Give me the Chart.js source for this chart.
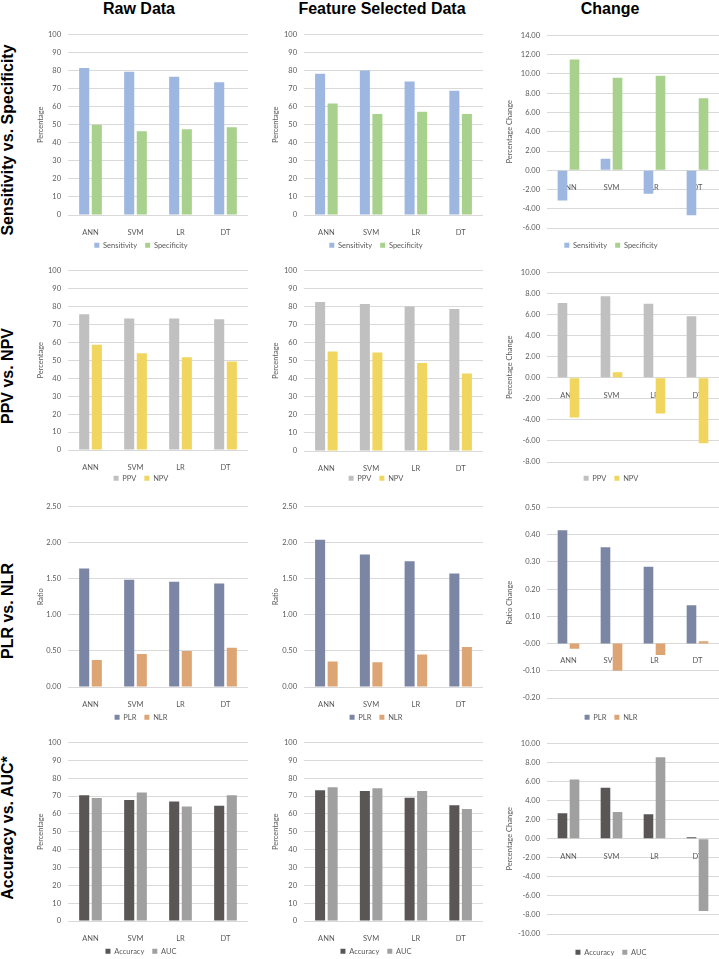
<!DOCTYPE html>
<html>
<head>
<meta charset="utf-8">
<script src="https://cdn.jsdelivr.net/npm/chart.js@4"></script>
<style>
html, body { margin: 0; padding: 0; background: #fff; overflow: hidden; }
#page { position: relative; width: 719px; height: 959px; }
canvas { position: absolute; }
.coltitle, .rowtitle {
    position: absolute;
    font-family: "Liberation Sans", Arial, sans-serif;
    font-weight: bold;
    font-size: 16px;
    line-height: 16px;
    white-space: nowrap;
    color: #000;
}
.coltitle { transform: translate(-50%, -50%); }
.rowtitle { transform: translate(-50%, -50%) rotate(-90deg); }
</style>
</head>
<body>
<div id="page">
    <div class="coltitle" style="left:139px; top:9px">Raw Data</div>
    <div class="coltitle" style="left:382px; top:9px">Feature Selected Data</div>
    <div class="coltitle" style="left:610px; top:9px">Change</div>
    <div class="rowtitle" style="left:8px; top:140px">Sensitivity vs. Specificity</div>
    <div class="rowtitle" style="left:8px; top:376px">PPV vs. NPV</div>
    <div class="rowtitle" style="left:8px; top:611px">PLR vs. NLR</div>
    <div class="rowtitle" style="left:8px; top:828px">Accuracy vs. AUC*</div>
</div>
<script>
// categories
const models = ["ANN", "SVM", "LR", "DT"];

// Sensitivity vs. Specificity
const sensRaw = [81.5, 79.3, 76.6, 73.5];
const specRaw = [50.0, 46.4, 47.5, 48.6];
const sensFs = [78.2, 80.0, 73.9, 68.8];
const specFs = [61.8, 56.0, 57.2, 56.0];
const sensChange = [-3.13, 1.2, -2.44, -4.68];
const specChange = [11.5, 9.6, 9.81, 7.47];

// PPV vs. NPV
const ppvRaw = [75.6, 73.2, 73.2, 72.9];
const npvRaw = [58.7, 53.9, 51.7, 49.3];
const ppvFs = [82.5, 81.4, 80.0, 78.7];
const npvFs = [55.1, 54.6, 48.7, 43.0];
const ppvChange = [7.1, 7.75, 7.04, 5.85];
const npvChange = [-3.77, 0.53, -3.4, -6.23];

// PLR vs. NLR
const plrRaw = [1.64, 1.485, 1.458, 1.435];
const nlrRaw = [0.375, 0.457, 0.498, 0.544];
const plrFs = [2.04, 1.835, 1.743, 1.573];
const nlrFs = [0.353, 0.344, 0.45, 0.555];
const plrChange = [0.416, 0.354, 0.282, 0.141];
const nlrChange = [-0.019, -0.1, -0.042, 0.0085];

// Accuracy vs. AUC
const accRaw = [70.4, 67.8, 66.9, 64.6];
const aucRaw = [68.9, 72.0, 64.1, 70.4];
const accFs = [73.2, 72.8, 69.1, 64.9];
const aucFs = [74.9, 74.3, 72.8, 62.8];
const accChange = [2.68, 5.36, 2.57, 0.17];
const aucChange = [6.23, 2.82, 8.56, -7.58];

// y axis ranges per panel type
const pctAxis = { min: 0, max: 100, step: 10, decimals: 0, title: "Percentage" };
const ratioAxis = { min: 0, max: 2.5, step: 0.5, decimals: 2, title: "Ratio" };
const axisChange1 = { min: -6, max: 14, step: 2, decimals: 2, title: "Percentage Change" };
const axisChange2 = { min: -8, max: 10, step: 2, decimals: 2, title: "Percentage Change" };
const axisChange3 = { min: -0.2, max: 0.5, step: 0.1, decimals: 2, title: "Ratio Change" };
const axisChange4 = { min: -10, max: 10, step: 2, decimals: 2, title: "Percentage Change" };

// layout of the grid (pixels)
const columns = [
    { left: 34, right: 248, yWidth: 34 },
    { left: 269, right: 483, yWidth: 35 },
    { left: 503, right: 719, yWidth: 44 }
];
const rowsGeom = [
    { top: [33, 33, 34], bottom: [215, 215, 228], legend: [245, 245, 245] },
    { top: [269, 269, 271], bottom: [450, 451, 462], legend: [478, 478, 478] },
    { top: [505, 505, 506], bottom: [687, 687, 698], legend: [717, 717, 717] },
    { top: [741, 741, 742], bottom: [921, 921, 934], legend: [951, 951, 952] }
];

const tickFont = { family: "Lato", size: 7.5 };
const textColor = "#595959";
const legendPad = 8;
const page = document.getElementById("page");

function drawPanel(col, row, seriesA, seriesB, names, colors, axis) {
    const c = columns[col];
    const r = rowsGeom[row];
    const gridTop = r.top[col], gridBottom = r.bottom[col], legendY = r.legend[col];
    const canvasTop = gridTop - 10;
    const canvasBottom = legendY + 14;
    // empty legend title used as a spacer between the plot and the legend row
    const spacer = (canvasBottom - gridBottom) - (tickFont.size + legendPad + 10) - 1.2;

    const canvas = document.createElement("canvas");
    canvas.width = c.right - c.left;
    canvas.height = canvasBottom - canvasTop;
    canvas.style.left = c.left + "px";
    canvas.style.top = canvasTop + "px";
    page.appendChild(canvas);

    new Chart(canvas, {
        type: "bar",
        data: {
            labels: models,
            datasets: [
                { label: names[0], data: seriesA, backgroundColor: colors[0] },
                { label: names[1], data: seriesB, backgroundColor: colors[1] }
            ]
        },
        options: {
            responsive: false,
            animation: false,
            devicePixelRatio: 1,
            layout: { padding: { top: 10, left: 0, right: 0, bottom: 0 } },
            datasets: { bar: { categoryPercentage: 0.56, barPercentage: 0.8 } },
            plugins: {
                legend: {
                    position: "bottom",
                    title: { display: true, text: "", font: { size: 1 }, padding: { top: spacer, bottom: 0 } },
                    labels: { boxWidth: 5, boxHeight: 5, padding: legendPad, color: textColor, font: tickFont }
                },
                tooltip: { enabled: false }
            },
            scales: {
                x: {
                    // category labels sit just under the zero line, as in Excel
                    position: { y: 0 },
                    z: 1,
                    grid: { display: false },
                    border: { display: false },
                    ticks: { color: textColor, font: tickFont, padding: 5, maxRotation: 0, autoSkip: false }
                },
                y: {
                    min: axis.min,
                    max: axis.max,
                    ticks: {
                        stepSize: axis.step,
                        color: textColor,
                        font: tickFont,
                        padding: 7,
                        callback: v => axis.decimals ? Number(v).toFixed(axis.decimals) : v
                    },
                    grid: { color: "#d9d9d9", drawTicks: false },
                    border: { display: false },
                    title: { display: true, text: axis.title, color: textColor, font: tickFont, padding: { top: 2, bottom: 0 } },
                    afterFit: s => { s.width = c.yWidth; }
                }
            }
        }
    });
}

const sensColors = ["#9db7e0", "#a9d18e"];
const ppvColors = ["#c0c0c0", "#f0d55e"];
const plrColors = ["#7a86a4", "#dda574"];
const accColors = ["#5a5656", "#a0a0a0"];

drawPanel(0, 0, sensRaw, specRaw, ["Sensitivity", "Specificity"], sensColors, pctAxis);
drawPanel(1, 0, sensFs, specFs, ["Sensitivity", "Specificity"], sensColors, pctAxis);
drawPanel(2, 0, sensChange, specChange, ["Sensitivity", "Specificity"], sensColors, axisChange1);

drawPanel(0, 1, ppvRaw, npvRaw, ["PPV", "NPV"], ppvColors, pctAxis);
drawPanel(1, 1, ppvFs, npvFs, ["PPV", "NPV"], ppvColors, pctAxis);
drawPanel(2, 1, ppvChange, npvChange, ["PPV", "NPV"], ppvColors, axisChange2);

drawPanel(0, 2, plrRaw, nlrRaw, ["PLR", "NLR"], plrColors, ratioAxis);
drawPanel(1, 2, plrFs, nlrFs, ["PLR", "NLR"], plrColors, ratioAxis);
drawPanel(2, 2, plrChange, nlrChange, ["PLR", "NLR"], plrColors, axisChange3);

drawPanel(0, 3, accRaw, aucRaw, ["Accuracy", "AUC"], accColors, pctAxis);
drawPanel(1, 3, accFs, aucFs, ["Accuracy", "AUC"], accColors, pctAxis);
drawPanel(2, 3, accChange, aucChange, ["Accuracy", "AUC"], accColors, axisChange4);
</script>
</body>
</html>
